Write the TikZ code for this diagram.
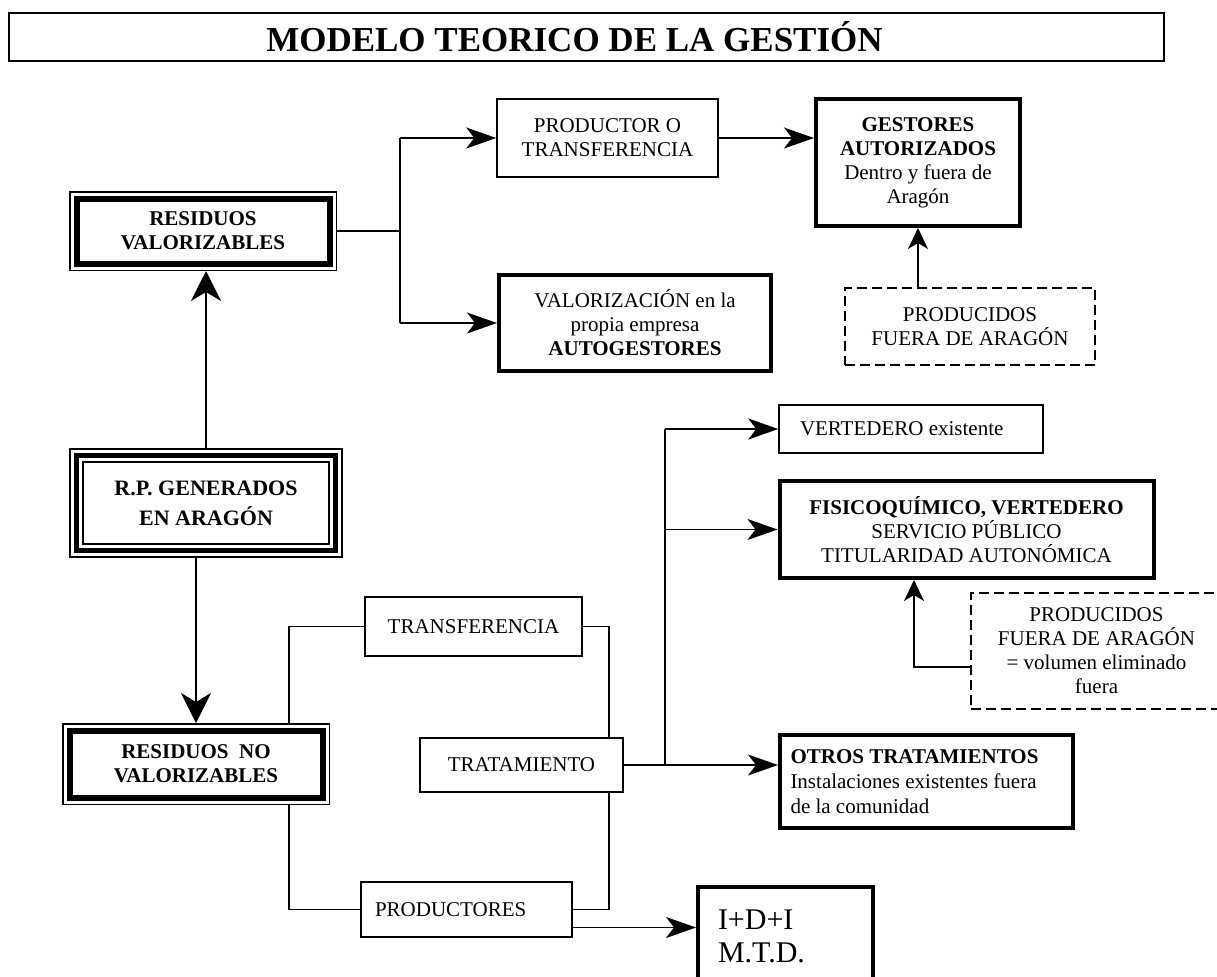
\documentclass[tikz,border=0pt]{standalone}
\usepackage{fontspec}
\setmainfont{Liberation Serif}
\usetikzlibrary{arrows.meta,positioning}

\begin{document}
\begin{tikzpicture}[x=0.5pt, y=-0.5pt, line width=0.75pt,
    every node/.style={align=center, inner sep=0pt, font=\fontsize{10.5}{12}\selectfont},
    box/.style={draw, line width=0.75pt},
    thickbox/.style={draw, line width=2pt},
    dashbox/.style={draw, line width=1pt, dash pattern=on 5pt off 2.5pt},
    framebox/.style={preaction={draw, line width=7.5pt}, preaction={fill=white},
        preaction={draw=white, line width=6pt}, draw, line width=3pt, outer sep=3.75pt,
        font=\bfseries\fontsize{10.5}{12}\selectfont},
    tribox/.style={preaction={draw, line width=7.5pt}, preaction={draw=white, line width=5.5pt},
        draw, line width=2.5pt, outer sep=3.75pt, font=\bfseries\fontsize{11}{15}\selectfont},
    arr/.style={-{Stealth[length=15pt, width=10.5pt, inset=4pt]}},
    bigarr/.style={-{Stealth[length=15pt, width=15pt, inset=4.5pt]}},
    smallarr/.style={-{Stealth[length=10.5pt, width=10pt, inset=3pt]}}]
    \useasboundingbox (0,0) rectangle (1217,976);

    % title
    \node[draw, line width=1pt, minimum width=577.5pt, minimum height=24pt,
        font=\bfseries\fontsize{17.5}{20}\selectfont] (title) at (586.5,36.5)
        {\hspace*{-12pt}MODELO TEORICO DE LA GESTIÓN};

    % left column
    \node[tribox, minimum width=129.5pt, minimum height=47.5pt] (rp) at (206,503) {R.P. GENERADOS\\EN ARAGÓN};
    \node[framebox, minimum width=126.5pt, minimum height=32.5pt] (rv) at (203,231) {RESIDUOS\\VALORIZABLES};
    \node[framebox, minimum width=126.5pt, minimum height=33.5pt] (rnv) at (196,764) {RESIDUOS\ \ NO\\VALORIZABLES};

    % valorizables
    \node[box, minimum width=110.5pt, minimum height=39pt] (prod) at (607.5,138) {PRODUCTOR O\\TRANSFERENCIA};
    \node[thickbox, minimum width=102pt, minimum height=63.5pt] (gest) at (918,162.5)
        {\textbf{GESTORES}\\\textbf{AUTORIZADOS}\\Dentro y fuera de\\Aragón};
    \node[thickbox, minimum width=136pt, minimum height=48pt] (valor) at (635,323)
        {VALORIZACIÓN en la\\propia empresa\\\textbf{AUTOGESTORES}};
    \node[dashbox, minimum width=125pt, minimum height=38.5pt] (fuera) at (970,326.5) {PRODUCIDOS\\FUERA DE ARAGÓN};

    % no valorizables
    \node[box, minimum width=108.5pt, minimum height=29.5pt] (transf) at (473.5,626.5) {TRANSFERENCIA};
    \node[box, minimum width=101.5pt, minimum height=27pt] (trat) at (521.5,765) {TRATAMIENTO};
    \node[box, minimum width=105.5pt, minimum height=27.5pt, text width=91.5pt, align=flush left] (productores) at (466.5,909.5) {PRODUCTORES};
    \node[box, minimum width=132pt, minimum height=24pt, text width=111pt, align=flush left] (vert) at (911,429) {VERTEDERO existente};
    \node[thickbox, minimum width=187pt, minimum height=48.5pt] (fisico) at (966.5,529.5)
        {\textbf{FISICOQUÍMICO, VERTEDERO}\\SERVICIO PÚBLICO\\TITULARIDAD AUTONÓMICA};
    \node[dashbox, minimum width=125.5pt, minimum height=58pt] (fuera2) at (1096.5,651)
        {PRODUCIDOS\\FUERA DE ARAGÓN\\= volumen eliminado\\fuera};
    \node[thickbox, minimum width=146.5pt, minimum height=46.5pt, text width=136pt, align=flush left,
        font=\fontsize{10.5}{12.5}\selectfont] (otros) at (926.5,781.5)
        {\textbf{OTROS TRATAMIENTOS}\\Instalaciones existentes fuera\\de la comunidad};
    \node[thickbox, minimum width=87.5pt, minimum height=49.5pt, text width=67.5pt, align=flush left,
        font=\fontsize{15}{16.5}\selectfont] (idi) at (785.5,936.5) {I+D+I\\M.T.D.};

    \coordinate (vj) at (400,0);
    \coordinate (tx) at (609,0);
    \coordinate (tj) at (665,0);

    \draw[bigarr] (rp.north) -- (rp.north |- rv.south);
    \draw[bigarr] (rnv.north |- rp.south) -- (rnv.north);

    \draw (rv.east) -- (rv.east -| vj);
    \draw (vj |- prod.west) -- (vj |- valor.west);
    \draw[arr] (vj |- prod.west) -- (prod.west);
    \draw[arr] (vj |- valor.west) -- (valor.west);
    \draw[arr] (prod.east) -- (prod.east -| gest.west);
    \draw[smallarr] (gest.south |- fuera.north) -- (gest.south);

    \draw ([xshift=46.5pt]rnv.north) |- (transf.west);
    \draw ([xshift=46.5pt]rnv.south) |- (productores.west);
    \draw (transf.east) -| (trat.north -| tx);
    \draw (trat.south -| tx) |- (productores.east);
    \draw[arr] ([yshift=-9pt]productores.east) -- ([yshift=-9pt]productores.east -| idi.west);

    \draw[arr] (trat.east) -- (trat.east -| otros.west);
    \draw (tj |- trat.east) -- (tj |- vert.west);
    \draw[arr] (tj |- vert.west) -- (vert.west);
    \draw[arr] (tj |- fisico.west) -- (fisico.west);
    \draw[smallarr] ([yshift=-8pt]fuera2.west) -| ([xshift=-26.25pt]fisico.south);
\end{tikzpicture}
\end{document}
